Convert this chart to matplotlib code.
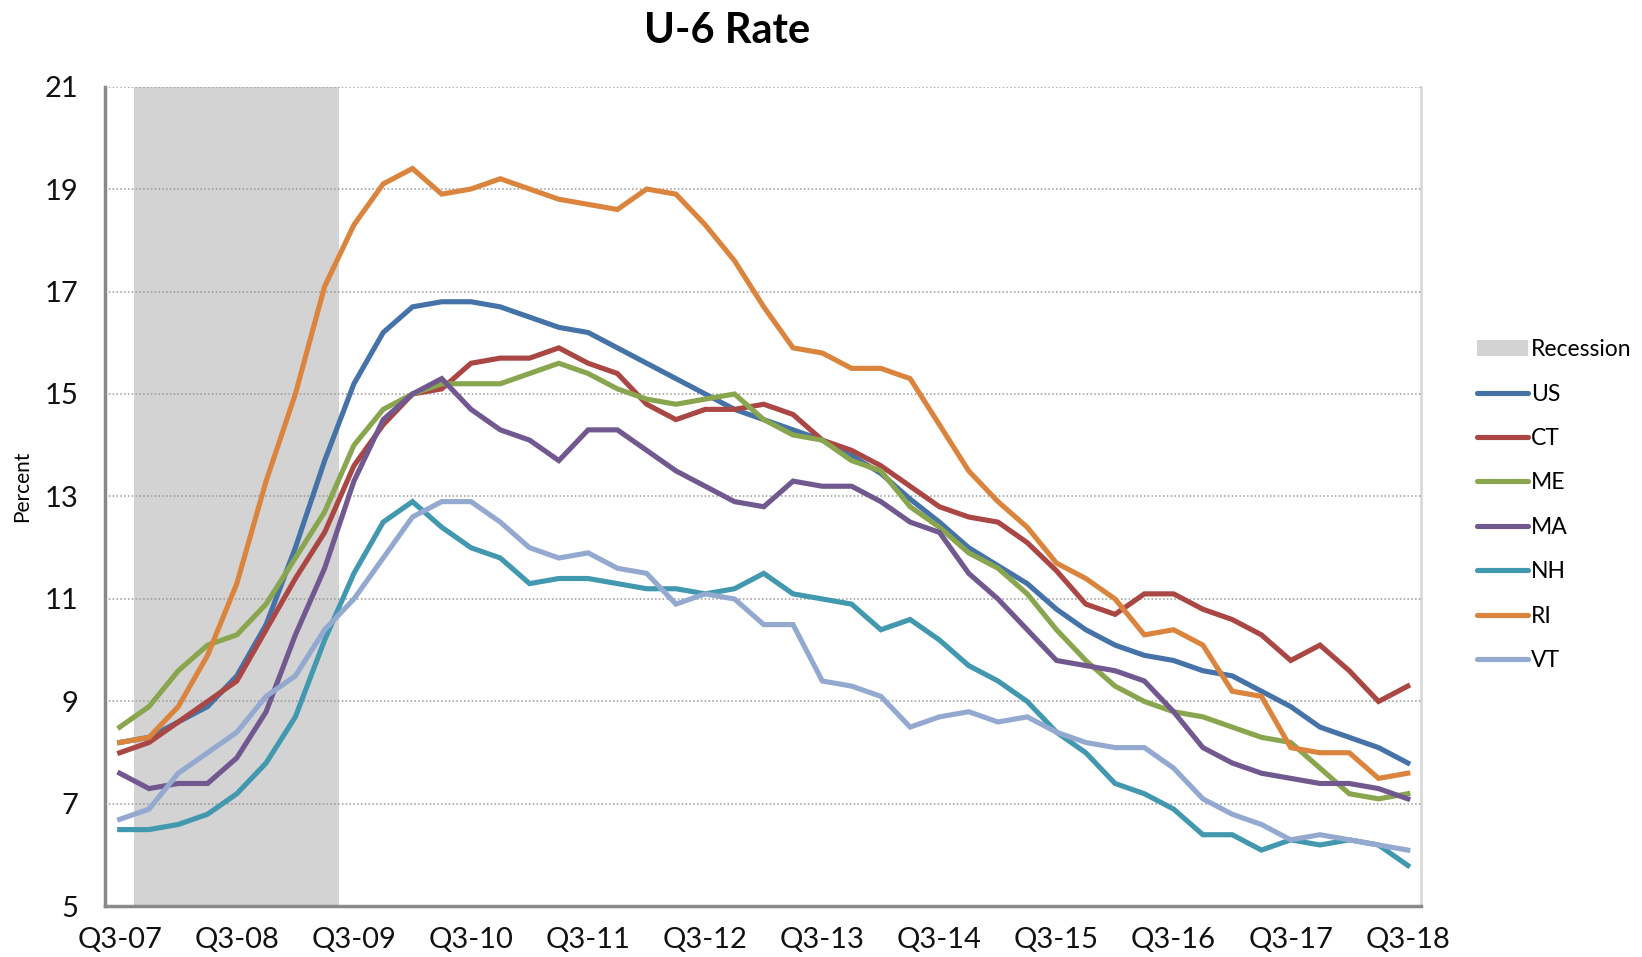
import matplotlib.pyplot as plt
from matplotlib.patches import Patch
from matplotlib.lines import Line2D

plt.rcParams['font.family'] = ['Lato', 'DejaVu Sans']

# quarterly U-6 rates, Q3-07 .. Q3-18
us = [8.2, 8.3, 8.6, 8.9, 9.5, 10.5, 12.0, 13.7, 15.2, 16.2,
      16.7, 16.8, 16.8, 16.7, 16.5, 16.3, 16.2, 15.9, 15.6, 15.3,
      15.0, 14.7, 14.5, 14.3, 14.1, 13.8, 13.45, 12.95, 12.5, 12.0,
      11.65, 11.3, 10.8, 10.4, 10.1, 9.9, 9.8, 9.6, 9.5, 9.2,
      8.9, 8.5, 8.3, 8.1, 7.8]
ct = [8.0, 8.2, 8.6, 9.0, 9.4, 10.4, 11.4, 12.3, 13.6, 14.4,
      15.0, 15.1, 15.6, 15.7, 15.7, 15.9, 15.6, 15.4, 14.8, 14.5,
      14.7, 14.7, 14.8, 14.6, 14.1, 13.9, 13.6, 13.2, 12.8, 12.6,
      12.5, 12.1, 11.55, 10.9, 10.7, 11.1, 11.1, 10.8, 10.6, 10.3,
      9.8, 10.1, 9.6, 9.0, 9.3]
me = [8.5, 8.9, 9.6, 10.1, 10.3, 10.9, 11.8, 12.7, 14.0, 14.7,
      15.0, 15.2, 15.2, 15.2, 15.4, 15.6, 15.4, 15.1, 14.9, 14.8,
      14.9, 15.0, 14.5, 14.2, 14.1, 13.7, 13.5, 12.8, 12.4, 11.9,
      11.6, 11.1, 10.4, 9.8, 9.3, 9.0, 8.8, 8.7, 8.5, 8.3,
      8.2, 7.7, 7.2, 7.1, 7.2]
ma = [7.6, 7.3, 7.4, 7.4, 7.9, 8.8, 10.3, 11.6, 13.3, 14.5,
      15.0, 15.3, 14.7, 14.3, 14.1, 13.7, 14.3, 14.3, 13.9, 13.5,
      13.2, 12.9, 12.8, 13.3, 13.2, 13.2, 12.9, 12.5, 12.3, 11.5,
      11.0, 10.4, 9.8, 9.7, 9.6, 9.4, 8.8, 8.1, 7.8, 7.6,
      7.5, 7.4, 7.4, 7.3, 7.1]
nh = [6.5, 6.5, 6.6, 6.8, 7.2, 7.8, 8.7, 10.2, 11.5, 12.5,
      12.9, 12.4, 12.0, 11.8, 11.3, 11.4, 11.4, 11.3, 11.2, 11.2,
      11.1, 11.2, 11.5, 11.1, 11.0, 10.9, 10.4, 10.6, 10.2, 9.7,
      9.4, 9.0, 8.4, 8.0, 7.4, 7.2, 6.9, 6.4, 6.4, 6.1,
      6.3, 6.2, 6.3, 6.2, 5.8]
ri = [8.2, 8.3, 8.9, 9.9, 11.3, 13.3, 15.0, 17.1, 18.3, 19.1,
      19.4, 18.9, 19.0, 19.2, 19.0, 18.8, 18.7, 18.6, 19.0, 18.9,
      18.3, 17.6, 16.7, 15.9, 15.8, 15.5, 15.5, 15.3, 14.4, 13.5,
      12.9, 12.4, 11.7, 11.4, 11.0, 10.3, 10.4, 10.1, 9.2, 9.1,
      8.1, 8.0, 8.0, 7.5, 7.6]
vt = [6.7, 6.9, 7.6, 8.0, 8.4, 9.1, 9.5, 10.4, 11.0, 11.8,
      12.6, 12.9, 12.9, 12.5, 12.0, 11.8, 11.9, 11.6, 11.5, 10.9,
      11.1, 11.0, 10.5, 10.5, 9.4, 9.3, 9.1, 8.5, 8.7, 8.8,
      8.6, 8.7, 8.4, 8.2, 8.1, 8.1, 7.7, 7.1, 6.8, 6.6,
      6.3, 6.4, 6.3, 6.2, 6.1]

# 1 = NBER recession quarter (Q4-07 .. Q2-09)
recession = [0, 1, 1, 1, 1, 1, 1, 1] + [0] * 37

tick_labels = ['Q3-07', 'Q3-08', 'Q3-09', 'Q3-10', 'Q3-11', 'Q3-12',
               'Q3-13', 'Q3-14', 'Q3-15', 'Q3-16', 'Q3-17', 'Q3-18']

series = [('US', us, '#4572A7'), ('CT', ct, '#AA4643'), ('ME', me, '#89A54E'),
          ('MA', ma, '#71588F'), ('NH', nh, '#4198AF'), ('RI', ri, '#DB843D'),
          ('VT', vt, '#93A9CF')]

ymin, ymax = 5, 21
x = list(range(len(us)))

fig = plt.figure(figsize=(16.42, 9.57), dpi=100)
ax = fig.add_axes([0.064, 0.0528, 0.8014, 0.8568])

# recession shading as full-height columns
rec_x = [i for i, r in zip(x, recession) if r]
ax.bar(rec_x, [ymax - ymin] * len(rec_x), bottom=ymin, width=1.0,
       color='#D3D3D3', linewidth=0, zorder=1)

for name, vals, col in series:
    ax.plot(x, vals, color=col, lw=3.7, solid_joinstyle='miter', zorder=3)

ax.set_xlim(-0.5, 44.45)
ax.set_ylim(ymin, ymax)
ax.set_yticks(range(5, 22, 2))
ax.set_xticks(range(0, 45, 4))
ax.set_xticklabels(tick_labels)
ax.tick_params(axis='both', length=0, labelsize=21, colors='#111111')
ax.tick_params(axis='y', pad=19)
ax.tick_params(axis='x', pad=15)

ax.grid(axis='y', linestyle=(0, (1, 1.5)), color='#999999', lw=1.1, zorder=2)
ax.set_axisbelow(False)
for s in ['left', 'bottom']:
    ax.spines[s].set_color('#888888')
    ax.spines[s].set_linewidth(2.5)
ax.spines['top'].set_visible(False)
ax.spines['right'].set_color('#D9D9D9')
ax.spines['right'].set_linewidth(2)

fig.text(0.0135, 0.492, 'Percent', rotation=90, fontsize=15, ha='center', va='center')
fig.text(0.443, 0.968, 'U-6 Rate', fontsize=30, fontweight='bold', ha='center', va='center')

handles = [Patch(facecolor='#D3D3D3', edgecolor='none', label='Recession')]
for name, vals, col in series:
    handles.append(Line2D([], [], color=col, lw=3.7, solid_capstyle='round', label=name))
fig.legend(handles=handles, loc='upper left', bbox_to_anchor=(0.894, 0.655),
           frameon=False, fontsize=16.5, handlelength=2.2, handletextpad=0.15,
           labelspacing=1.02, borderaxespad=0)

fig.savefig('out.png', dpi=100)
